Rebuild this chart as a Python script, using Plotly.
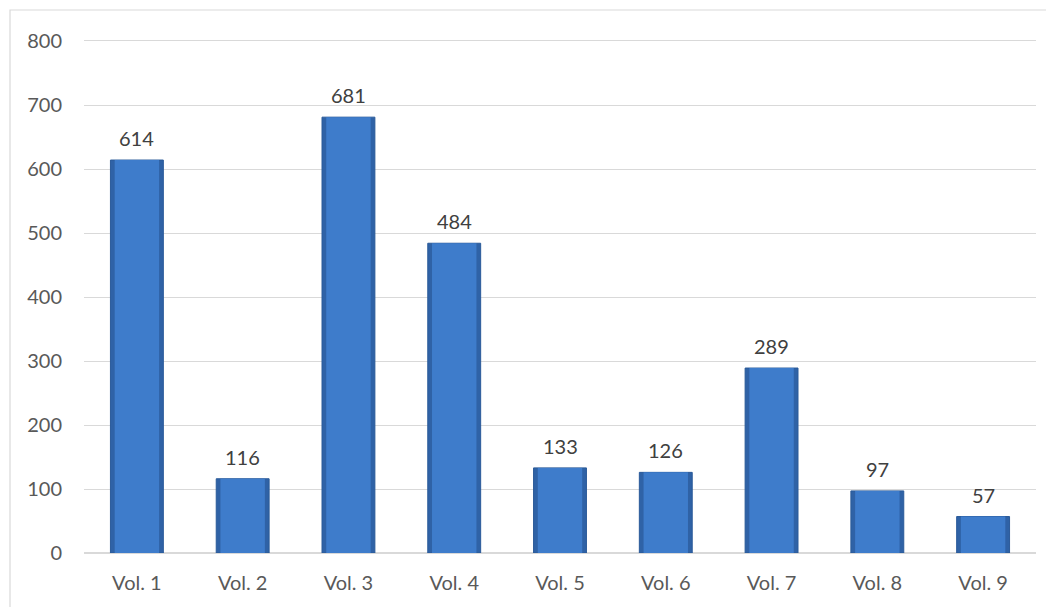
import plotly.graph_objects as go

categories = ["Vol. 1", "Vol. 2", "Vol. 3", "Vol. 4", "Vol. 5", "Vol. 6", "Vol. 7", "Vol. 8", "Vol. 9"]
values = [614, 116, 681, 484, 133, 126, 289, 97, 57]
y_ticks = [0, 100, 200, 300, 400, 500, 600, 700, 800]

W, H = 1054, 607
font_family = "Lato, 'Open Sans', 'Liberation Sans', sans-serif"

fig = go.Figure()
# outer (bevel edge) bar
fig.add_trace(go.Bar(
    x=categories, y=values, width=0.5,
    marker=dict(color="#2f62a6", line=dict(color="#2a5a99", width=1)),
    hoverinfo="skip",
))
# inner face
fig.add_trace(go.Bar(
    x=categories, y=values, width=0.42,
    marker=dict(color="#3e7ccb", line=dict(width=0)),
))

annotations = [
    dict(x=c, y=v, xref="x", yref="y", text=str(v), showarrow=False,
         yshift=22, font=dict(family=font_family, size=20, color="#404040"))
    for c, v in zip(categories, values)
]

fig.update_layout(
    width=W, height=H,
    barmode="overlay",
    margin=dict(l=76, r=26, t=33, b=62),
    paper_bgcolor="white", plot_bgcolor="white",
    showlegend=False,
    font=dict(family=font_family, size=20, color="#595959"),
    xaxis=dict(showgrid=False, showline=True, mirror=True, linecolor="#d9d9d9", linewidth=1,
               automargin=False,
               ticks="outside", ticklen=12, tickcolor="rgba(0,0,0,0)",
               tickfont=dict(size=20, color="#595959")),
    yaxis=dict(range=[0, 800], tickvals=y_ticks, showgrid=True, gridcolor="#d9d9d9", gridwidth=1,
               zeroline=True, zerolinecolor="#d9d9d9", zerolinewidth=1.5,
               automargin=False, ticks="", ticklabelstandoff=21,
               tickfont=dict(size=20, color="#595959")),
    annotations=annotations,
    shapes=[dict(type="rect", xref="paper", yref="paper",
                 x0=-74/952, x1=1.1, y0=-0.2, y1=1 + 31/512,
                 line=dict(color="#d9d9d9", width=1.2), fillcolor="rgba(0,0,0,0)", layer="below")],
)

fig.write_html("out.html")
